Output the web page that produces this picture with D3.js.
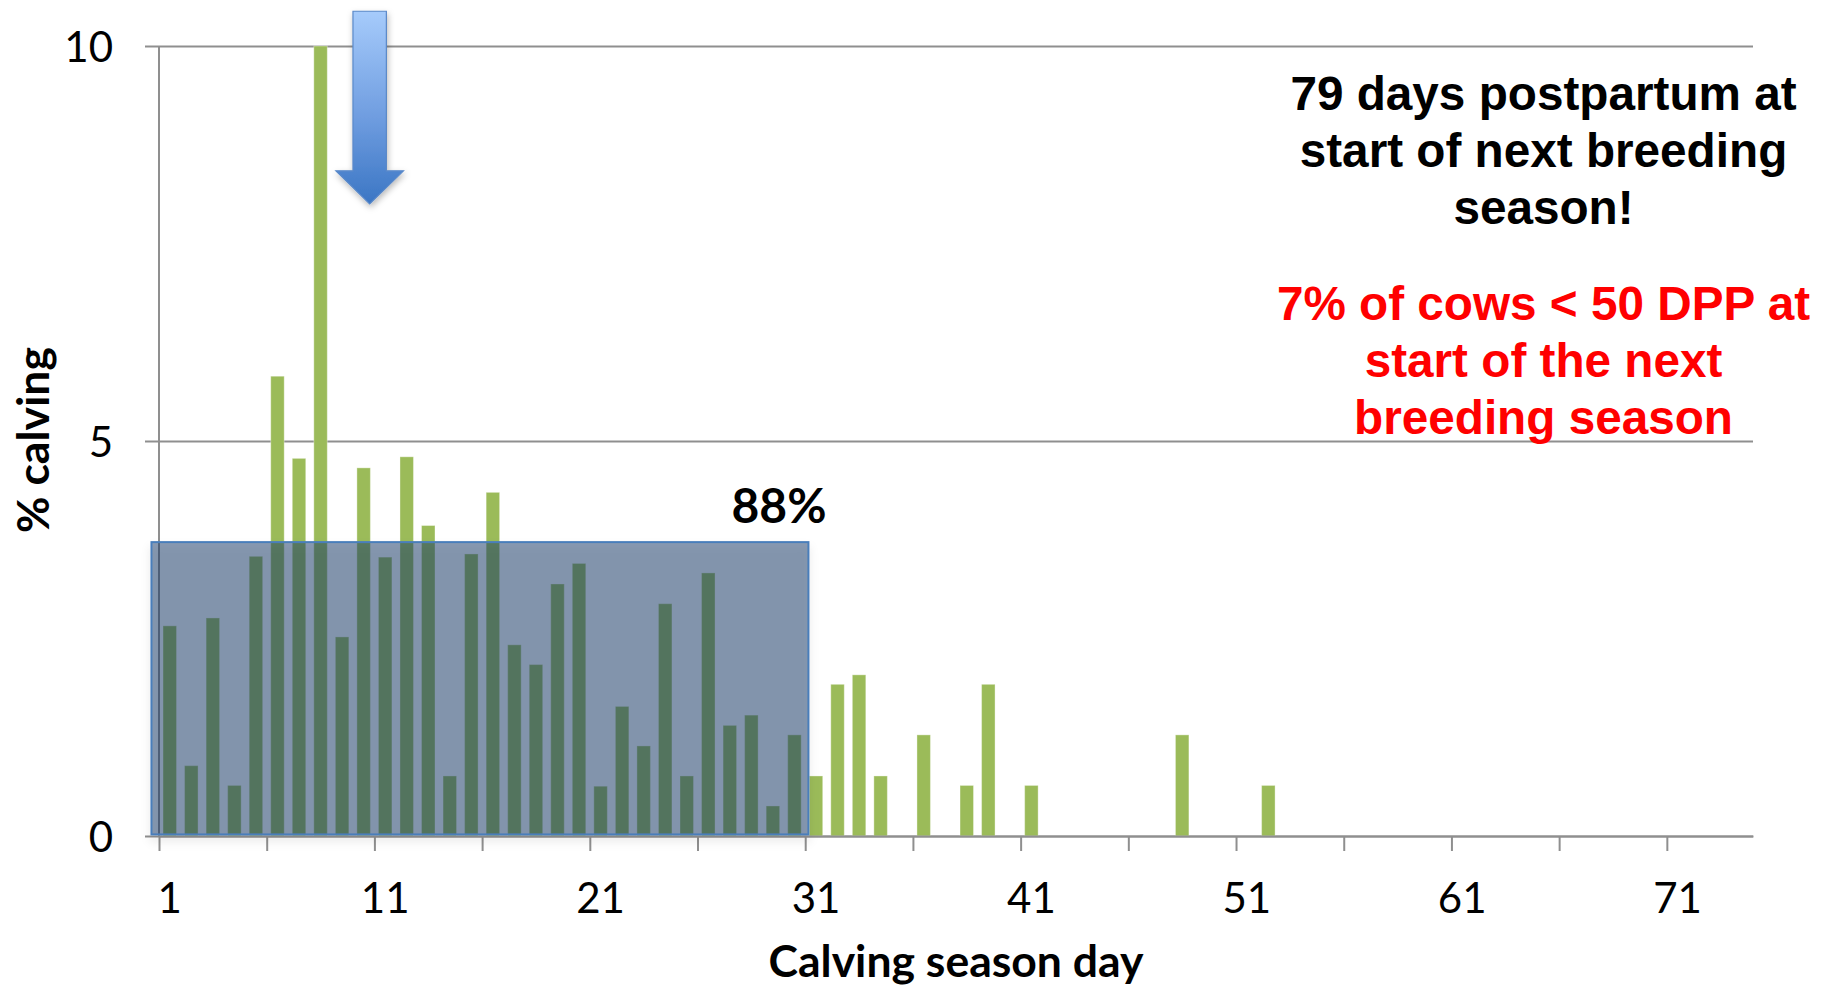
<!DOCTYPE html>
<html>
<head>
<meta charset="utf-8">
<script src="https://cdn.jsdelivr.net/npm/d3@7"></script>
<style>
  html, body { margin: 0; padding: 0; background: #ffffff; }
  svg { display: block; }
</style>
</head>
<body>
<svg id="chart" width="1828" height="987"></svg>
<script>
// Share of the herd calving on each day of the calving season (%)
const days = d3.range(1, 75);
const calvingDays = [
  1, 2, 3, 4, 5, 6, 7, 8, 9, 10,
  11, 12, 13, 14, 15, 16, 17, 18, 19, 20,
  21, 22, 23, 24, 25, 26, 27, 28, 29, 30,
  31, 32, 33, 34, 36, 38, 39, 41, 48, 52
];
const pctCalving = [
  2.66, 0.89, 2.76, 0.64, 3.54, 5.82, 4.78, 10.0, 2.52, 4.66,
  3.53, 4.80, 3.93, 0.76, 3.57, 4.35, 2.42, 2.17, 3.19, 3.45,
  0.63, 1.64, 1.14, 2.94, 0.76, 3.33, 1.40, 1.53, 0.38, 1.28,
  0.76, 1.92, 2.04, 0.76, 1.28, 0.64, 1.92, 0.64, 1.28, 0.64
];
const yTicks = [0, 5, 10];
const xTickLabels = [1, 11, 21, 31, 41, 51, 61, 71];
const xTickBoundaries = d3.range(0, 71, 5);

// First-30-day block and its share
const firstBlock = { from: -0.35, to: 30.15, top: 3.72, label: "88%" };
// Start-of-breeding-season marker (category boundary units / % units)
const marker = { at: 9.78, top: 10.44, headStart: 8.42, tip: 8.0 };

const noteBlack = ["79 days postpartum at", "start of next breeding", "season!"];
const noteRed = ["7% of cows < 50 DPP at", "start of the next", "breeding season"];

const svg = d3.select("#chart");
const plotLeft = 159, plotRight = 1753, plotTop = 46, plotBottom = 836;

const x = d3.scaleBand()
  .domain(days)
  .range([plotLeft, plotRight])
  .paddingInner(0.375)
  .paddingOuter(0.1875);
const xEdge = d3.scaleLinear().domain([0, days.length]).range([plotLeft, plotRight]);
const y = d3.scaleLinear().domain([0, 10]).range([plotBottom, plotTop]);

const defs = svg.append("defs");
const grad = defs.append("linearGradient")
  .attr("id", "arrowFill").attr("x1", 0).attr("y1", 0).attr("x2", 0).attr("y2", 1);
grad.append("stop").attr("offset", "0%").attr("stop-color", "#a6cbfb");
grad.append("stop").attr("offset", "55%").attr("stop-color", "#6f9de0");
grad.append("stop").attr("offset", "100%").attr("stop-color", "#3b76c4");

const shadow = defs.append("filter").attr("id", "softShadow")
  .attr("x", "-30%").attr("y", "-20%").attr("width", "160%").attr("height", "140%");
shadow.append("feDropShadow")
  .attr("dx", 1).attr("dy", 3).attr("stdDeviation", 3)
  .attr("flood-color", "#000").attr("flood-opacity", 0.28);

const boxShadow = defs.append("filter").attr("id", "boxShadow")
  .attr("x", "-10%").attr("y", "-10%").attr("width", "120%").attr("height", "130%");
boxShadow.append("feDropShadow")
  .attr("dx", 0).attr("dy", 6).attr("stdDeviation", 5)
  .attr("flood-color", "#000").attr("flood-opacity", 0.12);

// Horizontal gridlines with outside ticks
const gridAxis = svg.append("g")
  .attr("transform", `translate(${plotLeft},0)`)
  .call(d3.axisLeft(y).tickValues(yTicks).tickSize(-(plotRight - plotLeft)).tickFormat(""));
gridAxis.select(".domain").remove();
gridAxis.selectAll(".tick line")
  .attr("stroke", "#8f8f8f").attr("stroke-width", 2)
  .attr("x1", -14);

// Bars
svg.append("g")
  .selectAll("rect")
  .data(calvingDays.map((d, i) => ({ day: d, v: pctCalving[i] })))
  .join("rect")
  .attr("x", d => x(d.day))
  .attr("width", x.bandwidth())
  .attr("y", d => y(d.v))
  .attr("height", d => y(0) - y(d.v))
  .attr("fill", "#9bbb59")
  .attr("stroke", "rgba(255,255,255,0.35)")
  .attr("stroke-width", 1);

// Y axis line
svg.append("line")
  .attr("x1", plotLeft).attr("x2", plotLeft)
  .attr("y1", y(10)).attr("y2", y(0))
  .attr("stroke", "#8f8f8f").attr("stroke-width", 2);

// X axis: boundary ticks every five days
const xAxisTicks = svg.append("g")
  .attr("transform", `translate(0,${plotBottom})`)
  .call(d3.axisBottom(xEdge).tickValues(xTickBoundaries).tickSize(15).tickFormat("").tickSizeOuter(0));
xAxisTicks.select(".domain").attr("stroke", "#8f8f8f").attr("stroke-width", 2);
xAxisTicks.selectAll(".tick line").attr("stroke", "#8f8f8f").attr("stroke-width", 2);

// X tick labels centred on their day
const xLabels = svg.append("g")
  .attr("transform", `translate(0,${plotBottom})`)
  .call(d3.axisBottom(x).tickValues(xTickLabels).tickSize(0).tickPadding(0));
xLabels.select(".domain").remove();
xLabels.selectAll(".tick text")
  .attr("y", 77).attr("dy", 0)
  .attr("font-family", "Lato, sans-serif").attr("font-size", 42).attr("fill", "#000");

// Y tick labels
const yLabels = svg.append("g")
  .attr("transform", `translate(${plotLeft},0)`)
  .call(d3.axisLeft(y).tickValues(yTicks).tickSize(0).tickPadding(46));
yLabels.select(".domain").remove();
yLabels.selectAll(".tick text")
  .attr("dy", "0.36em")
  .attr("font-family", "Lato, sans-serif").attr("font-size", 42).attr("fill", "#000");

// First 30 days block
svg.append("rect")
  .attr("x", xEdge(firstBlock.from))
  .attr("width", xEdge(firstBlock.to) - xEdge(firstBlock.from))
  .attr("y", y(firstBlock.top))
  .attr("height", y(0.02) - y(firstBlock.top))
  .attr("fill", "rgb(21,55,101)")
  .attr("fill-opacity", 0.5)
  .attr("stroke", "#4a7ebb")
  .attr("stroke-width", 2)
  .attr("filter", "url(#boxShadow)");

svg.append("text")
  .attr("x", 779).attr("y", 523)
  .attr("text-anchor", "middle")
  .attr("font-family", "Lato, sans-serif").attr("font-weight", 700)
  .attr("font-size", 48).attr("fill", "#000")
  .text(firstBlock.label);

// Downward marker arrow
const cx = xEdge(marker.at);
const shaftHalf = 16.7, headHalf = 33.8;
const arrowPath = d3.path();
arrowPath.moveTo(cx - shaftHalf, y(marker.top));
arrowPath.lineTo(cx + shaftHalf, y(marker.top));
arrowPath.lineTo(cx + shaftHalf, y(marker.headStart));
arrowPath.lineTo(cx + headHalf, y(marker.headStart));
arrowPath.lineTo(cx, y(marker.tip));
arrowPath.lineTo(cx - headHalf, y(marker.headStart));
arrowPath.lineTo(cx - shaftHalf, y(marker.headStart));
arrowPath.closePath();
svg.append("path")
  .attr("d", arrowPath.toString())
  .attr("fill", "url(#arrowFill)")
  .attr("stroke", "#5a89c9")
  .attr("stroke-width", 1.2)
  .attr("filter", "url(#softShadow)");

// Axis titles
svg.append("text")
  .attr("transform", `translate(49,440) rotate(-90)`)
  .attr("text-anchor", "middle")
  .attr("font-family", "Lato, sans-serif").attr("font-weight", 700)
  .attr("font-size", 44.5).attr("fill", "#000")
  .text("% calving");

svg.append("text")
  .attr("x", (plotLeft + plotRight) / 2).attr("y", 977)
  .attr("text-anchor", "middle")
  .attr("font-family", "Lato, sans-serif").attr("font-weight", 700)
  .attr("font-size", 44.5).attr("fill", "#000")
  .text("Calving season day");

// Notes
const noteX = 1543.5;
svg.append("g").selectAll("text")
  .data(noteBlack).join("text")
  .attr("x", noteX).attr("y", (d, i) => 109.5 + i * 57)
  .attr("text-anchor", "middle")
  .attr("font-family", "'Liberation Sans', Arial, sans-serif").attr("font-weight", 700)
  .attr("font-size", 47.7).attr("fill", "#000")
  .text(d => d);

svg.append("g").selectAll("text")
  .data(noteRed).join("text")
  .attr("x", noteX).attr("y", (d, i) => 319.5 + i * 57)
  .attr("text-anchor", "middle")
  .attr("font-family", "'Liberation Sans', Arial, sans-serif").attr("font-weight", 700)
  .attr("font-size", 47.7).attr("fill", "#ff0000")
  .text(d => d);
</script>
</body>
</html>
